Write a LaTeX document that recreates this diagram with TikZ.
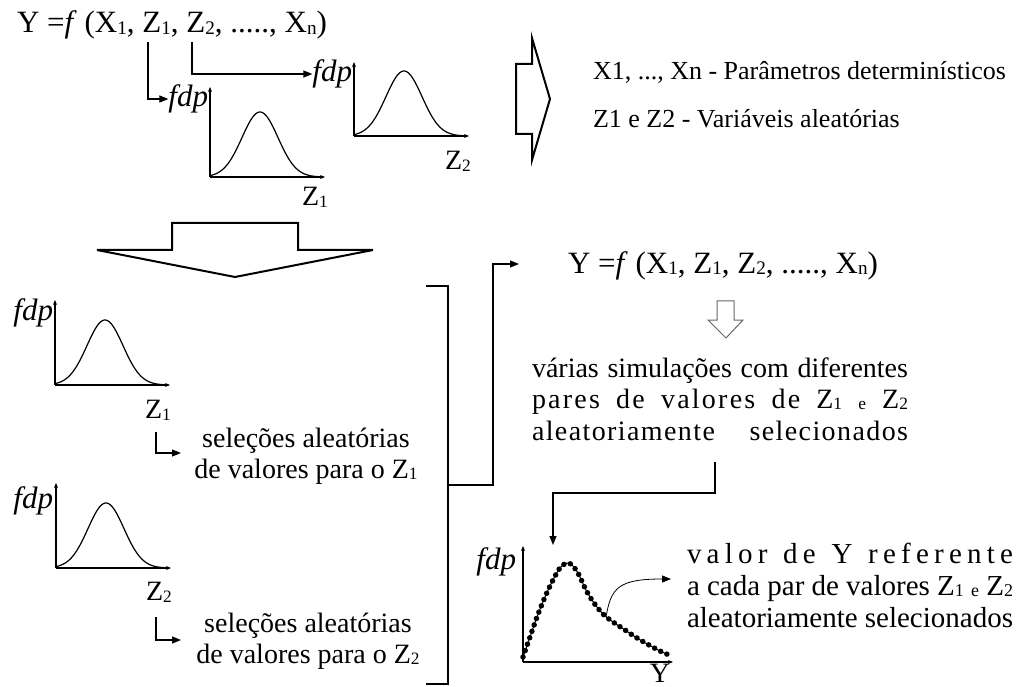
\documentclass[tikz,border=0pt]{standalone}
\usepackage{fontspec}
\usepackage{graphicx}
\setmainfont{Liberation Serif}
\usetikzlibrary{arrows.meta}
\newcommand{\lo}[1]{\raisebox{-0.06em}{\scalebox{0.62}{#1}}}
\begin{document}
\begin{tikzpicture}[x=1pt,y=-1pt,
  every node/.style={inner sep=0pt, outer sep=0pt},
  txt/.style={font=\fontsize{28}{32}\selectfont},
  formula/.style={font=\fontsize{31}{34}\selectfont},
  bigtxt/.style={font=\fontsize{29}{33}\selectfont},
  smalltxt/.style={font=\fontsize{26}{30}\selectfont},
  fdplab/.style={font=\fontsize{31}{34}\selectfont\itshape},
  conn/.style={line width=1.1pt, -{Triangle[length=9pt,width=7pt]}},
  plainline/.style={line width=1.2pt},
  blockarrow/.style={line width=2pt, line join=miter},
  axisline/.style={line width=1.6pt, -{Stealth[length=5pt,width=4pt]}},
  bellline/.style={line width=1.2pt},
  bellgraph/.pic={
    \draw[axisline] (0,0) -- (115,0);
    \draw[axisline] (0,0) -- (0,-#1);
    \draw[bellline] plot[domain=0:112,samples=90] (\x,{-65*exp(-((\x-50)/18)^2/2)});
  }
]
\useasboundingbox (0,0) rectangle (1018,687);

% top formula and its distributions
\node[formula, anchor=base west] (f1) at (17,33) {Y =\textit{f} (X\lo{1}, Z\lo{1}, Z\lo{2}, ....., X\lo{n})};
\node[fdplab, anchor=east] (fdpA) at (208,99) {fdp};
\node[fdplab, anchor=east] (fdpB) at (352,74) {fdp};
\coordinate (z1s) at (148,42);
\coordinate (z2s) at (192,42);
\draw[conn] (z1s) |- (fdpA.west);
\draw[conn] (z2s) |- (fdpB.west);
\pic at (210,177) {bellgraph=90};
\pic at (354,136) {bellgraph=74};
\node[txt] (zA) at (315,197) {Z\lo{1}};
\node[txt] (zB) at (458,161) {Z\lo{2}};

% right block arrow
\draw[blockarrow] (516,64) -- (532,64) -- (532,38) -- (550,99) -- (532,160) -- (532,134) -- (516,134) -- cycle;
\node[smalltxt, anchor=base west] (p1) at (593,80) {X1, ..., Xn - Parâmetros determinísticos};
\node[smalltxt, anchor=base west] (p2) at (593,128) {Z1 e Z2 - Variáveis aleatórias};

% down block arrow
\draw[blockarrow] (172,223) -- (298,223) -- (298,250) -- (373,250) -- (235,277) -- (97,250) -- (172,250) -- cycle;

% bottom-left distributions
\node[fdplab, anchor=east] (fdpC) at (53,313) {fdp};
\pic at (55,385) {bellgraph=85};
\node[txt] (zC) at (158,410) {Z\lo{1}};
\node[fdplab, anchor=east] (fdpD) at (53,501) {fdp};
\pic at (56,568) {bellgraph=85};
\node[txt] (zD) at (159,592) {Z\lo{2}};

\node[txt, anchor=base] (selA1) at (306,447) {seleções aleatórias};
\node[txt, anchor=base] (selA2) at (306,478) {de valores para o Z\lo{1}};
\node[txt, anchor=base] (selB1) at (308,632) {seleções aleatórias};
\node[txt, anchor=base] (selB2) at (308,663) {de valores para o Z\lo{2}};
\coordinate (lA) at (156,432);
\coordinate (lAe) at (181,453);
\coordinate (lB) at (156,617);
\coordinate (lBe) at (181,640);
\draw[conn] (lA) |- (lAe);
\draw[conn] (lB) |- (lBe);

% bracket
\draw[plainline] (426,286) -- (448,286) -- (448,684) -- (426,684);
\coordinate (brM) at (448,485);
\coordinate (fin) at (519,264);
\draw[conn] (brM) -- ++(45,0) |- (fin);

% right formula
\node[formula, anchor=base west] (f2) at (568,273) {Y =\textit{f} (X\lo{1}, Z\lo{1}, Z\lo{2}, ....., X\lo{n})};
\draw[line width=1pt, gray!80!black] (717,301) -- (734,301) -- (734,320) -- (743,320) -- (726,338) -- (708,320) -- (717,320) -- cycle;

\node[txt, anchor=base west] (s1) at (532,377) {\makebox[376pt][s]{várias simulações com diferentes}};
\node[txt, anchor=base west] (s2) at (532,408) {\makebox[376pt][s]{\addfontfeatures{LetterSpace=8}pares de valores de Z\lo{1} \lo{e} Z\lo{2}}};
\node[txt, anchor=base west] (s3) at (532,440) {\makebox[376pt][s]{\addfontfeatures{LetterSpace=5}aleatoriamente selecionados}};
\coordinate (sdown) at (715,462);
\coordinate (ytop) at (553,545);
\draw[conn] (sdown) -- ++(0,31) -| (ytop);

% bottom-right graph
\node[fdplab, anchor=east] (fdpE) at (516,562) {fdp};
\draw[axisline] (523,662) -- (673,662);
\draw[axisline] (523,662) -- (523,546);
\draw[line width=1pt] plot[smooth, tension=0.6] coordinates {(523,657) (530,637) (537,617) (545,597) (553,580) (560,568) (567,563) (573,566) (579,575) (586,590) (594,603) (603,614) (613,622) (625,630) (637,638) (649,645) (660,651) (669,655)};
\draw[line width=5.5pt, line cap=round, dash pattern=on 0pt off 6.8pt] plot[smooth, tension=0.6] coordinates {(523,657) (530,637) (537,617) (545,597) (553,580) (560,568) (567,563) (573,566) (579,575) (586,590) (594,603) (603,614) (613,622) (625,630) (637,638) (649,645) (660,651) (669,655)};
\node[txt] (ylab) at (660,673) {Y};
\coordinate (cpt) at (606,617);
\coordinate (cend) at (671,579);
\draw[conn, line width=0.8pt] (cpt) .. controls (611,588) and (618,579) .. (cend);

\node[bigtxt, anchor=base west] (v1) at (687,563) {\makebox[326pt][s]{\addfontfeatures{LetterSpace=18}valor de Y referente}};
\node[bigtxt, anchor=base west] (v2) at (687,595) {\makebox[326pt][s]{a cada par de valores Z\lo{1} \lo{e} Z\lo{2}}};
\node[bigtxt, anchor=base west] (v3) at (687,627) {\makebox[326pt][s]{aleatoriamente selecionados}};
\end{tikzpicture}
\end{document}
